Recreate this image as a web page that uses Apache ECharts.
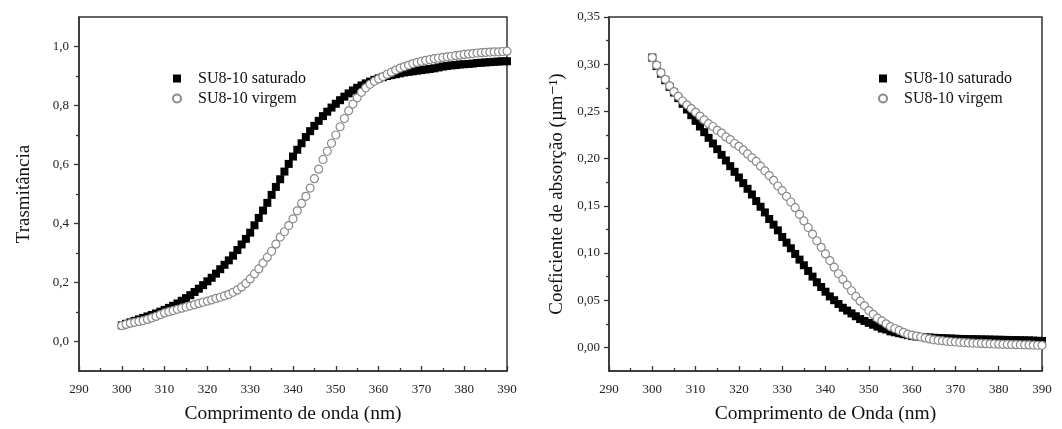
<!DOCTYPE html>
<html>
<head>
<meta charset="utf-8">
<script src="https://cdn.jsdelivr.net/npm/echarts@6/dist/echarts.min.js"></script>
<style>html,body{margin:0;padding:0;background:#fff}#c{width:1062px;height:429px}</style>
</head>
<body>
<div id="c"></div>
<script>
// Wavelengths (nm), one marker per nm
const wavelengths = [300,301,302,303,304,305,306,307,308,309,310,311,312,313,314,315,316,317,318,319,320,321,322,323,324,325,326,327,328,329,330,331,332,333,334,335,336,337,338,339,340,341,342,343,344,345,346,347,348,349,350,351,352,353,354,355,356,357,358,359,360,361,362,363,364,365,366,367,368,369,370,371,372,373,374,375,376,377,378,379,380,381,382,383,384,385,386,387,388,389,390];

// Left panel: Transmittance
const transSaturado = [0.055,0.060,0.065,0.070,0.075,0.080,0.085,0.090,0.095,0.101,0.107,0.114,0.121,0.129,0.138,0.147,0.157,0.168,0.179,0.191,0.204,0.216,0.230,0.245,0.260,0.275,0.291,0.310,0.329,0.348,0.369,0.394,0.419,0.444,0.470,0.497,0.524,0.550,0.576,0.602,0.627,0.650,0.672,0.693,0.713,0.731,0.748,0.764,0.779,0.793,0.806,0.818,0.830,0.841,0.851,0.860,0.868,0.875,0.881,0.887,0.892,0.896,0.900,0.903,0.906,0.909,0.912,0.914,0.916,0.918,0.920,0.922,0.924,0.926,0.929,0.932,0.934,0.936,0.937,0.939,0.940,0.941,0.942,0.944,0.945,0.946,0.947,0.948,0.949,0.950,0.950];
const transVirgem = [0.054,0.058,0.062,0.065,0.068,0.071,0.075,0.080,0.085,0.091,0.097,0.101,0.105,0.109,0.113,0.117,0.121,0.125,0.129,0.133,0.137,0.141,0.146,0.150,0.155,0.160,0.167,0.175,0.185,0.197,0.212,0.229,0.246,0.266,0.286,0.306,0.330,0.354,0.372,0.393,0.416,0.443,0.468,0.492,0.520,0.552,0.584,0.617,0.645,0.672,0.700,0.728,0.756,0.782,0.805,0.826,0.845,0.860,0.872,0.882,0.890,0.898,0.906,0.913,0.920,0.927,0.932,0.937,0.942,0.946,0.950,0.953,0.956,0.959,0.961,0.963,0.965,0.967,0.969,0.971,0.973,0.975,0.976,0.978,0.979,0.980,0.981,0.982,0.982,0.983,0.984];

// Right panel: Absorption coefficient (µm^-1)
const absSaturado = [0.307,0.298,0.290,0.283,0.276,0.270,0.264,0.258,0.252,0.246,0.240,0.234,0.228,0.222,0.216,0.210,0.204,0.198,0.192,0.186,0.180,0.174,0.168,0.162,0.155,0.149,0.143,0.136,0.130,0.124,0.117,0.111,0.105,0.099,0.093,0.087,0.081,0.075,0.069,0.064,0.059,0.054,0.050,0.046,0.042,0.039,0.036,0.033,0.030,0.028,0.026,0.024,0.022,0.020,0.019,0.017,0.016,0.015,0.014,0.013,0.012,0.0115,0.011,0.0108,0.0105,0.0102,0.0100,0.0098,0.0096,0.0094,0.0092,0.0090,0.0089,0.0088,0.0087,0.0086,0.0085,0.0084,0.0083,0.0082,0.0081,0.0080,0.0079,0.0078,0.0077,0.0076,0.0075,0.0074,0.0072,0.0070,0.0068];
const absVirgem = [0.307,0.299,0.291,0.284,0.277,0.271,0.266,0.261,0.257,0.253,0.249,0.245,0.241,0.237,0.234,0.230,0.227,0.223,0.220,0.216,0.213,0.209,0.205,0.201,0.197,0.192,0.187,0.182,0.177,0.171,0.166,0.160,0.154,0.148,0.141,0.134,0.127,0.120,0.113,0.106,0.099,0.092,0.085,0.078,0.072,0.066,0.060,0.054,0.049,0.044,0.039,0.035,0.031,0.028,0.025,0.022,0.020,0.018,0.016,0.014,0.013,0.012,0.011,0.010,0.009,0.008,0.0075,0.0070,0.0065,0.0060,0.0057,0.0054,0.0051,0.0048,0.0046,0.0044,0.0042,0.0040,0.0038,0.0036,0.0034,0.0033,0.0032,0.0030,0.0029,0.0028,0.0027,0.0026,0.0025,0.0023,0.0022];

const seriesNames = ['SU8-10 saturado', 'SU8-10 virgem'];
const xTicks = [290,300,310,320,330,340,350,360,370,380,390];
const yTicksLeft = [0.0,0.2,0.4,0.6,0.8,1.0];
const yMinorLeft = [0.1,0.3,0.5,0.7,0.9];
const yTicksRight = [0.00,0.05,0.10,0.15,0.20,0.25,0.30,0.35];
const yMinorRight = [0.025,0.075,0.125,0.175,0.225,0.275,0.325];
const xTitleLeft = 'Comprimento de onda (nm)';
const xTitleRight = 'Comprimento de Onda (nm)';
const yTitleLeft = 'Trasmitância';
const yTitleRight = 'Coeficiente de absorção (µm⁻¹)';

const pairs = (ys) => wavelengths.map((w, i) => [w, ys[i]]);
const FONT = "'Liberation Serif', 'DejaVu Serif', serif";
const AX = '#333';

function xAxis(gi, title) {
  return {
    type: 'value', gridIndex: gi, min: 290, max: 390, interval: 10,
    axisLine: { onZero: false, lineStyle: { color: AX, width: 1.5 } },
    axisTick: { inside: true, length: 5, lineStyle: { color: AX, width: 1.3 } },
    minorTick: { show: true, splitNumber: 2, length: 3, lineStyle: { color: AX, width: 1.3 } },
    axisLabel: { margin: 12, fontFamily: FONT, fontSize: 13, color: '#222', customValues: xTicks },
    splitLine: { show: false },
    name: title, nameLocation: 'middle', nameGap: 33,
    nameTextStyle: { fontFamily: FONT, fontSize: 19.5, color: '#111' }
  };
}
function yAxis(gi, min, max, ticks, dec, title, gap, margin) {
  return {
    type: 'value', gridIndex: gi, min: min, max: max,
    axisLine: { onZero: false, lineStyle: { color: AX, width: 1.5 } },
    axisTick: { inside: false, length: 5, customValues: ticks, lineStyle: { color: AX, width: 1.3 } },
    axisLabel: { margin: margin, fontFamily: FONT, fontSize: 13, color: '#222', customValues: ticks,
      formatter: v => v.toFixed(dec).replace('.', ',') },
    splitLine: { show: false },
    name: title, nameLocation: 'middle', nameGap: gap,
    nameTextStyle: { fontFamily: FONT, fontSize: 19, color: '#111' }
  };
}
function yMinor(gi, min, max, vals) {
  return {
    type: 'value', gridIndex: gi, min: min, max: max, position: 'left',
    axisLine: { show: false, onZero: false },
    axisTick: { inside: false, length: 3, customValues: vals, lineStyle: { color: AX, width: 1.3 } },
    axisLabel: { show: false }, splitLine: { show: false }
  };
}
function sq(name, xi, yi, data) {
  return { name: name, type: 'scatter', xAxisIndex: xi, yAxisIndex: yi, data: data,
    symbol: 'rect', symbolSize: 8, itemStyle: { color: '#000', opacity: 1 }, z: 2, silent: true };
}
function circ(name, xi, yi, data) {
  return { name: name, type: 'scatter', xAxisIndex: xi, yAxisIndex: yi, data: data,
    symbol: 'circle', symbolSize: 8, itemStyle: { color: '#fff', borderColor: '#8a8a8a', borderWidth: 1.2, opacity: 1 }, z: 3, silent: true };
}
function legend(left, top) {
  return {
    orient: 'vertical', left: left, top: top, data: seriesNames,
    itemWidth: 8, itemHeight: 8, itemGap: 3, selectedMode: false,
    textStyle: { fontFamily: FONT, fontSize: 16, color: '#111', padding: [0, 0, 0, 12], lineHeight: 17 }
  };
}

const chart = echarts.init(document.getElementById('c'), null, { renderer: 'canvas' });
chart.setOption({
  animation: false,
  backgroundColor: '#fff',
  grid: [
    { left: 79, top: 17, width: 428, height: 354, show: true, borderColor: AX, borderWidth: 1.5 },
    { left: 609, top: 17, width: 433, height: 354, show: true, borderColor: AX, borderWidth: 1.5 }
  ],
  legend: [legend(167, 65), legend(873, 65)],
  xAxis: [xAxis(0, xTitleLeft), xAxis(1, xTitleRight)],
  yAxis: [
    yAxis(0, -0.1, 1.1, yTicksLeft, 1, yTitleLeft, 45, 10),
    yMinor(0, -0.1, 1.1, yMinorLeft),
    yAxis(1, -0.025, 0.35, yTicksRight, 2, yTitleRight, 42, 9),
    yMinor(1, -0.025, 0.35, yMinorRight)
  ],
  series: [
    sq(seriesNames[0], 0, 0, pairs(transSaturado)),
    circ(seriesNames[1], 0, 0, pairs(transVirgem)),
    sq(seriesNames[0], 1, 2, pairs(absSaturado)),
    circ(seriesNames[1], 1, 2, pairs(absVirgem))
  ]
});
</script>
</body>
</html>
